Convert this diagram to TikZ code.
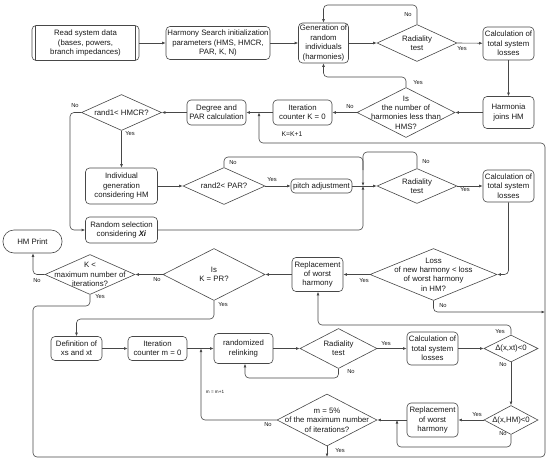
\documentclass[tikz,border=0pt]{standalone}
\usepackage{fontspec}
\setmainfont{Liberation Sans}
\usetikzlibrary{arrows.meta,shapes.geometric}
\newcommand\fs{\fontsize{7.8}{9.4}\selectfont}
\tikzset{
 ln/.style={draw=black!72, line width=0.6pt},
 box/.style={ln, rounded corners=4pt, align=center, inner sep=0pt, font=\fs, text=black!90},
 dia/.style={ln, diamond, inner sep=0pt},
 dl/.style={font=\fs, align=center, text=black!90, inner sep=0pt},
 yn/.style={font=\fontsize{5.8}{6}\selectfont, text=black!90, inner sep=0pt},
 arr/.style={ln, -{Latex[length=3.5pt,width=2.8pt]}, rounded corners=4pt},
 con/.style={ln, rounded corners=4pt},
 predef/.style={path picture={
   \draw[black!72, line width=0.6pt] ([xshift=3.5pt]path picture bounding box.north west) -- ([xshift=3.5pt]path picture bounding box.south west);
   \draw[black!72, line width=0.6pt] ([xshift=-3.5pt]path picture bounding box.north east) -- ([xshift=-3.5pt]path picture bounding box.south east);}},
}
\begin{document}
\begin{tikzpicture}[x=1pt,y=-1pt]
\useasboundingbox (0,0) rectangle (550,464);
% ---------- row 1
\node[box, predef, minimum width=107pt, minimum height=35pt] (read) at (85.5,43) {Read system data\\(bases, powers,\\branch impedances)};
\node[box, minimum width=104pt, minimum height=33pt] (hs) at (218,43) {Harmony Search initialization\\parameters (HMS, HMCR,\\PAR, K, N)};
\node[box, minimum width=50pt, minimum height=40pt] (gen) at (323.5,43) {Generation of\\random\\individuals\\(harmonies)};
\node[dia, minimum width=80pt, minimum height=37pt, label={[dl]center:{Radiality\\test}}] (rad1) at (417,43) {};
\node[box, minimum width=51pt, minimum height=33pt] (calc1) at (508.5,43.5) {Calculation of\\total system\\losses};
% ---------- row 2
\node[box, minimum width=51pt, minimum height=32pt] (harm) at (508.5,112.5) {Harmonia\\joins HM};
\node[dia, minimum width=98pt, minimum height=50pt, label={[dl]center:{Is\\the number of\\harmonies less than\\HMS?}}] (isnum) at (406,112.5) {};
\node[box, minimum width=59pt, minimum height=25pt] (iterK) at (302.5,112.5) {Iteration\\counter K = 0};
\node[box, minimum width=59pt, minimum height=25pt] (deg) at (216.5,112.5) {Degree and\\PAR calculation};
\node[dia, minimum width=80pt, minimum height=36pt, label={[dl]center:{rand1< HMCR?}}] (rand1) at (121.5,112.5) {};
% ---------- row 3
\node[box, minimum width=72pt, minimum height=36pt] (indiv) at (121.5,186) {Individual\\generation\\considering HM};
\node[box, minimum width=72pt, minimum height=26pt] (rsel) at (121.5,230) {Random selection\\considering \textbf{\textit{Xi}}};
\node[dia, minimum width=82pt, minimum height=37pt, label={[dl]center:{rand2< PAR?}}] (rand2) at (224,186) {};
\node[box, minimum width=61pt, minimum height=14pt] (pitch) at (321.5,186) {pitch adjustment};
\node[dia, minimum width=80pt, minimum height=35pt, label={[dl]center:{Radiality\\test}}] (rad2) at (417,186) {};
\node[box, minimum width=51pt, minimum height=32pt] (calc2) at (508.5,186) {Calculation of\\total system\\losses};
% ---------- row 4
\node[dia, minimum width=127pt, minimum height=52pt, label={[dl]center:{Loss\\of new harmony < loss\\of worst harmony\\in HM?}}] (loss) at (433.5,274.5) {};
\node[box, minimum width=51pt, minimum height=34pt] (rep1) at (317.5,274.5) {Replacement\\of worst\\harmony};
\node[dia, minimum width=102pt, minimum height=52pt, label={[dl]center:{Is\\K = PR?}}] (kpr) at (214,274.5) {};
\node[dia, minimum width=90pt, minimum height=40pt, label={[dl]center:{K <\\maximum number of\\iterations?}}] (kmax) at (90,274.5) {};
\node[box, rounded corners=11pt, minimum width=59pt, minimum height=23pt] (print) at (32.5,241.5) {HM Print};
% ---------- row 5
\node[box, minimum width=51pt, minimum height=24pt] (defn) at (76.5,348.5) {Definition of\\xs and xt};
\node[box, minimum width=59pt, minimum height=24pt] (iterM) at (157.5,348.5) {Iteration\\counter m = 0};
\node[box, minimum width=59pt, minimum height=30pt] (relink) at (243.5,348.5) {randomized\\relinking};
\node[dia, minimum width=77pt, minimum height=40pt, label={[dl]center:{Radiality\\test}}] (rad3) at (338.5,348.5) {};
\node[box, minimum width=51pt, minimum height=33pt] (calc3) at (432.5,348.5) {Calculation of\\total system\\losses};
\node[dia, minimum width=54pt, minimum height=27pt, label={[dl]center:{Δ(x,xt)<0}}] (dxt) at (511,348.5) {};
% ---------- row 6
\node[dia, minimum width=54pt, minimum height=29pt, label={[dl]center:{Δ(x,HM)<0}}] (dhm) at (511,420) {};
\node[box, minimum width=51pt, minimum height=34pt] (rep2) at (432.5,420) {Replacement\\of worst\\harmony};
\node[dia, minimum width=100pt, minimum height=52pt, label={[dl]center:{m = 5\%\\of the maximum number\\of iterations?}}] (m5) at (327,420) {};
% ---------- junctions
\coordinate (jr) at (363,186);
\coordinate (jk) at (259,112.5);
\coordinate (jm) at (201,348.5);
\coordinate (jn) at (397,420);
\coordinate (jb) at (327,457);
\coordinate (jl) at (545,312);
% ---------- connectors row 1/2
\draw[arr] (read) -- (hs);
\draw[arr] (hs) -- (gen);
\draw[arr] (gen) -- (rad1.west);
\draw[arr] (rad1.east) -- (calc1);
\draw[arr] (calc1) -- (harm);
\draw[arr] (harm) -- (isnum.east);
\draw[arr] (isnum.west) -- (iterK);
\draw[arr] (iterK) -- (deg);
\draw[arr] (deg) -- (rand1.east);
\draw[arr] (rad1.north) -- (417,5) -- (323.5,5) -- (gen.north);
\draw[arr] (isnum.north) -- (406,77) -- (323.5,77) -- (gen.south);
% ---------- row 3
\draw[arr] (rand1.south) -- (indiv);
\draw[arr] (rand1.west) -- (70,112.5) -- (70,230) -- (rsel.west);
\draw[arr] (indiv) -- (rand2.west);
\draw[arr] (rand2.east) -- (pitch);
\draw[arr] (pitch) -- (rad2.west);
\draw[con] (rand2.north) -- (224,157) -- (363,157) -- (363,170);
\draw[arr] (rad2.north) -- (417,152) -- (363,152) -- (jr);
\draw[arr] (rsel.east) -- (363,230) -- (jr);
\draw[arr] (rad2.east) -- (calc2);
\draw[arr] (calc2.south) -- (508.5,274.5) -- (loss.east);
% ---------- row 4
\draw[arr] (loss.west) -- (rep1);
\draw[arr] (rep1) -- (kpr.east);
\draw[arr] (kpr.west) -- (kmax.east);
\draw[arr] (kmax.west) -- (33,274.5) -- (print.south -| 33,0);
\draw[arr] (loss.south) -- (433.5,312) -- (jl);
\draw[arr] (kmax.south) -- (90,306) -- (33,306) -- (33,457) -- (545,457) -- (545,143) -- (259,143) -- (jk);
\draw[arr] (kpr.south) -- (214,319) -- (76.5,319) -- (defn.north);
% ---------- row 5/6
\draw[arr] (defn) -- (iterM);
\draw[arr] (iterM) -- (relink);
\draw[arr] (relink) -- (rad3.west);
\draw[arr] (rad3.south) -- (338.5,378) -- (245,378) -- (relink.south -| 245,0);
\draw[arr] (rad3.east) -- (calc3);
\draw[arr] (calc3) -- (dxt.west);
\draw[arr] (dxt.north) -- (511,325) -- (318,325) -- (rep1.south -| 318,0);
\draw[arr] (dxt.south) -- (dhm.north);
\draw[arr] (dhm.west) -- (rep2);
\draw[arr] (rep2) -- (m5.east);
\draw[arr] (dhm.south) -- (511,447) -- (397,447) -- (jn);
\draw[arr] (m5.west) -- (201,420) -- (jm);
\draw[arr] (m5.south) -- (jb);
% ---------- labels
\node[yn] at (408,15) {No};
\node[yn] at (462,49) {Yes};
\node[yn] at (418,83) {Yes};
\node[yn] at (350,107) {No};
\node[yn] at (75,106) {No};
\node[yn] at (130,134) {Yes};
\node[yn] at (233,163) {No};
\node[yn] at (272,180) {Yes};
\node[yn] at (426,162) {No};
\node[yn] at (465,190) {Yes};
\node[yn] at (364,281) {Yes};
\node[yn] at (443,306) {No};
\node[yn] at (223,305) {Yes};
\node[yn] at (157,280) {No};
\node[yn] at (37,281) {No};
\node[yn] at (100,297) {Yes};
\node[yn] at (386,344) {Yes};
\node[yn] at (351,372) {No};
\node[yn] at (500,332) {Yes};
\node[yn] at (503,365) {No};
\node[yn] at (477,415) {Yes};
\node[yn] at (503,434) {No};
\node[yn] at (268,425) {No};
\node[yn] at (340,451) {Yes};
\node[font=\fontsize{6.8}{7}\selectfont, text=black!90, inner sep=0pt] at (292,134) {K=K+1};
\node[font=\fontsize{4.6}{5}\selectfont, text=black!90, inner sep=0pt] at (215,392) {m = m+1};
\end{tikzpicture}
\end{document}
